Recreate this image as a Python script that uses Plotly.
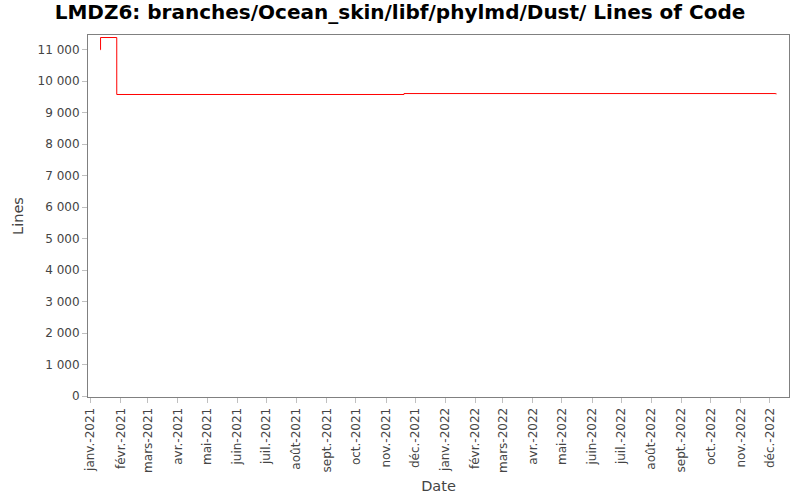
import plotly.graph_objects as go

# commit dates and line counts (step chart)
dates = ["2021-01-11 00:00", "2021-01-11 08:00", "2021-01-28 00:00",
         "2021-11-19 12:00", "2022-12-07 00:00", "2022-12-07 08:00"]
lines = [11000, 11390, 9580, 9610, 9610, 9585]

tick_dates = ["2021-01-01", "2021-02-01", "2021-03-01", "2021-04-01", "2021-05-01",
              "2021-06-01", "2021-07-01", "2021-08-01", "2021-09-01", "2021-10-01",
              "2021-11-01", "2021-12-01", "2022-01-01", "2022-02-01", "2022-03-01",
              "2022-04-01", "2022-05-01", "2022-06-01", "2022-07-01", "2022-08-01",
              "2022-09-01", "2022-10-01", "2022-11-01", "2022-12-01"]
tick_labels = ["janv.-2021", "févr.-2021", "mars-2021", "avr.-2021", "mai-2021",
               "juin-2021", "juil.-2021", "août-2021", "sept.-2021", "oct.-2021",
               "nov.-2021", "déc.-2021", "janv.-2022", "févr.-2022", "mars-2022",
               "avr.-2022", "mai-2022", "juin-2022", "juil.-2022", "août-2022",
               "sept.-2022", "oct.-2022", "nov.-2022", "déc.-2022"]

fig = go.Figure()
fig.add_trace(go.Scatter(x=dates, y=lines, mode="lines",
                         line=dict(color="red", width=1, shape="hv"),
                         showlegend=False))

axis_font = dict(family="DejaVu Sans", size=12, color="#444444")
title_font = dict(family="DejaVu Sans", size=14.5, color="#444444")
fig.update_layout(
    width=800, height=500,
    margin=dict(l=88, r=11, t=35, b=103),
    paper_bgcolor="white", plot_bgcolor="white",
    separators=". ",
    title=dict(text="<b>LMDZ6: branches/Ocean_skin/libf/phylmd/Dust/ Lines of Code</b>",
               x=0.5, xanchor="center", y=0.99, yanchor="top",
               font=dict(family="DejaVu Sans", size=20, color="black")),
    xaxis=dict(range=["2020-12-29 10:00", "2022-12-20 14:00"], automargin=False,
               tickvals=tick_dates, ticktext=tick_labels, tickangle=-90,
               tickfont=axis_font, showgrid=False, zeroline=False,
               showline=True, linecolor="#808080", linewidth=1, mirror=True,
               ticks="outside", ticklen=5, tickcolor="#c0c0c0",
               title=dict(text="Date", standoff=8, font=title_font)),
    yaxis=dict(range=[-30, 11470], tickmode="linear", tick0=0, dtick=1000,
               automargin=False,
               tickformat=",d", tickfont=axis_font, showgrid=False, zeroline=False,
               showline=True, linecolor="#808080", linewidth=1, mirror=True,
               ticks="outside", ticklen=5, tickcolor="#c0c0c0",
               title=dict(text="Lines", standoff=10, font=title_font)),
)

# the page body has a default 8px margin; drop it so the figure sits at 0,0
fig.write_html("out.html", config={"displayModeBar": False},
               post_script="document.body.style.margin='0';")
